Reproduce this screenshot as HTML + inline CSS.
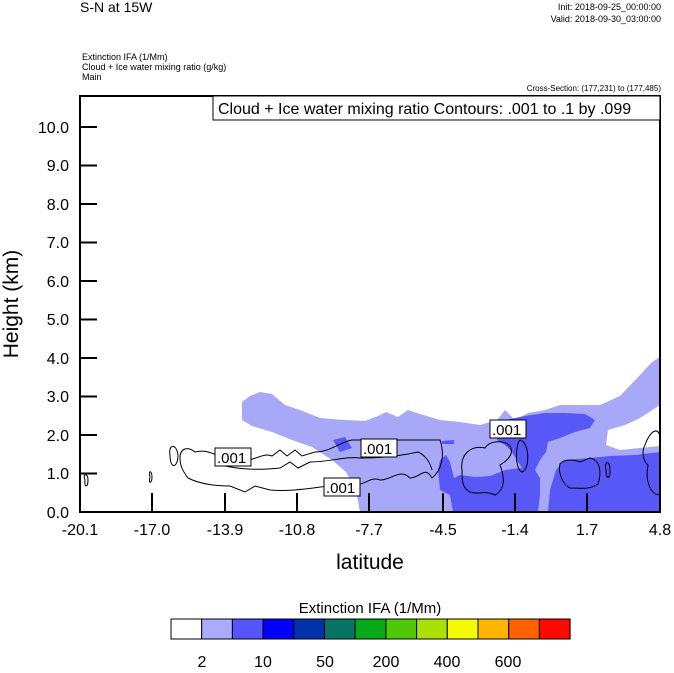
<!DOCTYPE html>
<html><head><meta charset="utf-8"><style>
body{margin:0;background:#fff;}
svg text{font-family:"Liberation Sans",sans-serif;}
</style></head><body>
<svg width="674" height="668" viewBox="0 0 674 668" xmlns="http://www.w3.org/2000/svg">
<rect width="674" height="668" fill="#fff"/>
<text x="80" y="12" font-size="14">S-N at 15W</text>
<text x="661" y="10" font-size="9" text-anchor="end">Init: 2018-09-25_00:00:00</text>
<text x="661" y="22" font-size="9" text-anchor="end">Valid: 2018-09-30_03:00:00</text>
<text x="82" y="60" font-size="9">Extinction IFA  (1/Mm)</text>
<text x="82" y="70" font-size="9">Cloud + Ice water mixing ratio   (g/kg)</text>
<text x="82" y="80" font-size="9">Main</text>
<text x="661" y="91" font-size="8" text-anchor="end">Cross-Section: (177,231) to (177,485)</text>

<!-- shading -->
<path fill="#a8a8f8" d="M242,402 L250,396 L260,392 L272,394 L285,405 L300,410 L320,418 L345,420 L365,421 L378,416 L386,412 L398,417 L408,410 L420,414 L440,420 L460,422 L480,425 L497,420 L505,410 L515,420 L528,413 L545,410 L560,405 L600,405 L620,396 L640,375 L652,362 L660,357 L660,512 L360,512 L356,490 L346,472 L332,460 L312,447 L292,440 L272,432 L252,426 L242,420 Z"/>
<path fill="#fff" d="M660,405 L640,418 L625,425 L608,430 L606,445 L620,450 L640,448 L660,446 Z"/>
<!-- mid shading -->
<path fill="#5858f8" d="M497,428 L505,420 L525,416 L545,413 L565,413 L585,414 L595,420 L590,428 L575,432 L560,438 L548,442 L546,452 L540,460 L535,470 L525,472 L518,462 L512,452 L505,445 L497,440 Z"/>
<path fill="#5858f8" d="M438,470 L440,460 L446,455 L450,462 L454,478 L460,475 L475,477 L490,476 L505,470 L520,468 L535,470 L540,478 L540,495 L538,512 L453,512 L450,495 L440,490 Z"/>
<path fill="#5858f8" d="M548,512 L550,490 L556,470 L565,460 L590,458 L610,456 L635,455 L660,452 L660,512 Z"/>
<path fill="#5858f8" d="M333,440 L345,437 L352,448 L340,452 Z"/>
<path fill="#5858f8" d="M442,441 L454,440 L454,444 L442,444 Z"/>

<!-- contours -->
<g fill="none" stroke="#000" stroke-width="1">
<path d="M170,455 C168,445 176,442 178,455 C178,468 170,470 170,455Z"/>
<path d="M180,458 C180,448 188,446 195,452 C210,448 215,458 240,460 C255,462 262,452 272,456 L280,450 L287,456 L295,450 L302,456 L315,452 C330,452 340,442 352,440 L362,440 L440,440 C445,455 442,470 432,478 C425,465 420,478 410,478 C400,468 392,480 380,480 C370,476 365,486 355,484 L330,486 C310,488 290,492 270,490 L255,486 L245,492 L230,486 C215,486 200,484 188,478 C182,470 180,465 180,458Z"/>
<path d="M150,477 C148,470 152,470 152,477 C152,484 148,484 150,477Z"/>
<path d="M85,480 C82,474 88,472 88,480 C88,488 84,488 85,480Z"/>
<path d="M225,466 C245,470 260,470 280,468 L290,462 L298,468 L310,462 C330,462 345,456 360,458 C380,458 400,456 418,452 C425,455 430,462 432,470"/>
<path d="M462,470 C460,455 470,445 485,448 C490,440 505,440 510,446 C515,455 505,462 500,465 C505,478 505,490 495,495 C485,490 478,495 470,492 C462,488 462,480 462,470Z"/>
<path d="M520,440 C530,442 530,470 522,472 C515,470 515,445 520,440Z"/>
<path d="M560,464 C565,458 575,460 580,462 L590,458 C600,460 602,472 598,484 C590,490 580,488 570,488 C562,484 558,472 560,464Z"/>
<path d="M645,445 C650,430 660,425 660,440 L660,495 C650,495 645,480 648,465 C642,460 642,450 645,445Z"/>
<path d="M606,470 C604,460 610,460 610,470 C610,480 606,480 606,470Z"/>
</g>
<!-- contour labels -->
<g font-size="14" stroke="#000" stroke-width="1">
<rect x="215" y="448" width="36" height="18" fill="#fff"/>
<rect x="361" y="439" width="36" height="18" fill="#fff"/>
<rect x="490" y="420" width="36" height="18" fill="#fff"/>
<rect x="324" y="478" width="36" height="18" fill="#fff"/>
</g>
<g font-size="15">
<text x="217" y="463">.001</text>
<text x="363" y="454">.001</text>
<text x="492" y="435">.001</text>
<text x="326" y="493">.001</text>
</g>

<!-- frame -->
<rect x="80" y="96" width="580" height="416" fill="none" stroke="#000" stroke-width="2"/>
<rect x="213" y="96" width="447" height="24" fill="#fff" stroke="#000" stroke-width="1"/>
<text x="218" y="114" font-size="16">Cloud + Ice water mixing ratio Contours: .001 to .1 by .099</text>

<g stroke="#000" stroke-width="2">
<line x1="80" y1="473.5" x2="97" y2="473.5"/><line x1="80" y1="435" x2="97" y2="435"/>
<line x1="80" y1="396.5" x2="97" y2="396.5"/><line x1="80" y1="358" x2="97" y2="358"/>
<line x1="80" y1="319.5" x2="97" y2="319.5"/><line x1="80" y1="281" x2="97" y2="281"/>
<line x1="80" y1="242.5" x2="97" y2="242.5"/><line x1="80" y1="204" x2="97" y2="204"/>
<line x1="80" y1="165.5" x2="97" y2="165.5"/><line x1="80" y1="127" x2="97" y2="127"/>
<line x1="152" y1="512" x2="152" y2="493"/><line x1="225" y1="512" x2="225" y2="493"/>
<line x1="297" y1="512" x2="297" y2="493"/><line x1="369" y1="512" x2="369" y2="493"/>
<line x1="443" y1="512" x2="443" y2="493"/><line x1="515" y1="512" x2="515" y2="493"/>
<line x1="587" y1="512" x2="587" y2="493"/>
</g>
<g font-size="16" text-anchor="end">
<text x="69" y="518">0.0</text><text x="69" y="479">1.0</text><text x="69" y="441">2.0</text>
<text x="69" y="402">3.0</text><text x="69" y="364">4.0</text><text x="69" y="325">5.0</text>
<text x="69" y="287">6.0</text><text x="69" y="248">7.0</text><text x="69" y="210">8.0</text>
<text x="69" y="171">9.0</text><text x="69" y="133">10.0</text>
</g>
<g font-size="16" text-anchor="middle">
<text x="80" y="535">-20.1</text><text x="152" y="535">-17.0</text><text x="225" y="535">-13.9</text>
<text x="297" y="535">-10.8</text><text x="369" y="535">-7.7</text><text x="443" y="535">-4.5</text>
<text x="515" y="535">-1.4</text><text x="587" y="535">1.7</text><text x="660" y="535">4.8</text>
</g>
<text x="370" y="569" font-size="21" text-anchor="middle">latitude</text>
<text transform="translate(18,304) rotate(-90)" font-size="21" text-anchor="middle">Height (km)</text>

<!-- colorbar -->
<text x="370" y="613" font-size="15" text-anchor="middle">Extinction IFA  (1/Mm)</text>
<g stroke="#000" stroke-width="1">
<rect x="171" y="619" width="30.7" height="20" fill="#fff"/>
<rect x="201.7" y="619" width="30.7" height="20" fill="#aaaaff"/>
<rect x="232.4" y="619" width="30.7" height="20" fill="#5555ff"/>
<rect x="263.1" y="619" width="30.7" height="20" fill="#0000ff"/>
<rect x="293.8" y="619" width="30.7" height="20" fill="#0033aa"/>
<rect x="324.5" y="619" width="30.7" height="20" fill="#077566"/>
<rect x="355.2" y="619" width="30.7" height="20" fill="#06aa18"/>
<rect x="385.9" y="619" width="30.7" height="20" fill="#50c80a"/>
<rect x="416.6" y="619" width="30.7" height="20" fill="#a8e205"/>
<rect x="447.3" y="619" width="30.7" height="20" fill="#f4fa00"/>
<rect x="478" y="619" width="30.7" height="20" fill="#ffb400"/>
<rect x="508.7" y="619" width="30.7" height="20" fill="#ff6000"/>
<rect x="539.4" y="619" width="30.7" height="20" fill="#ff0a00"/>
</g>
<g font-size="16" text-anchor="middle">
<text x="202" y="667">2</text><text x="263" y="667">10</text><text x="325" y="667">50</text>
<text x="386" y="667">200</text><text x="447" y="667">400</text><text x="508" y="667">600</text>
</g>
</svg>
</body></html>
